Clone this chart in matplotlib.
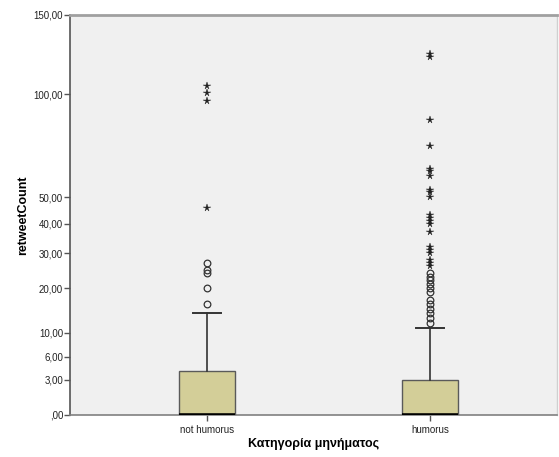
import numpy as np
import matplotlib
matplotlib.use("Agg")
import matplotlib.pyplot as plt

plt.rcParams['font.family'] = ['Liberation Sans', 'DejaVu Sans']

categories = ["not humorus", "humorus"]
q1 = [0, 0]
medians = [0, 0]
q3 = [4, 3]
whisker_hi = [14, 11]
outliers = [
    [16, 20, 24, 25, 27],
    [12, 13, 14, 15, 16, 17, 19, 20, 21, 22, 23, 24],
]
extremes = [
    [46, 96, 101, 105],
    [26, 27, 28, 30, 31, 32, 37, 40, 41, 42, 43, 50, 52, 53, 59, 61, 62, 73, 86, 122, 124],
]
y_ticks = [0, 3, 6, 10, 20, 30, 40, 50, 100, 150]


def fwd(v):
    return np.sqrt(np.maximum(np.asarray(v, dtype=float) + 1.0, 0.0))


def inv(v):
    return np.asarray(v, dtype=float) ** 2 - 1.0


def fmt(v):
    s = f"{v:.2f}".replace(".", ",")
    return ",00" if v == 0 else s


fig = plt.figure(figsize=(5.59, 4.57), dpi=100)
ax = fig.add_axes([70 / 559, 1 - 415 / 457, 487 / 559, 400 / 457])
ax.set_facecolor("#f0f0f0")
ax.set_yscale("function", functions=(fwd, inv))
ax.set_ylim(0, 150)
ax.set_xlim(-0.615, 1.57)

positions = np.arange(len(categories))
stats = []
for i in range(len(categories)):
    stats.append(dict(med=medians[i], q1=q1[i], q3=q3[i],
                      whislo=q1[i], whishi=whisker_hi[i], fliers=[]))

ax.bxp(stats, positions=positions, widths=0.25, patch_artist=True,
       showfliers=False,
       boxprops=dict(facecolor="#d3ce98", edgecolor="#5a5a5a", linewidth=1.0),
       medianprops=dict(color="black", linewidth=2.6, solid_capstyle="butt"),
       whiskerprops=dict(color="#333333", linewidth=1.2),
       capprops=dict(color="#333333", linewidth=1.4),
       capwidths=0.125, zorder=3)

for i, pos in enumerate(positions):
    ax.plot([pos] * len(outliers[i]), outliers[i], linestyle="none",
            marker="o", markersize=4.8, markerfacecolor="none",
            markeredgecolor="#333333", markeredgewidth=0.9, zorder=4)
    ax.plot([pos] * len(extremes[i]), extremes[i], linestyle="none",
            marker="*", markersize=5.5, markerfacecolor="#222222",
            markeredgecolor="#222222", markeredgewidth=0.3, zorder=4)

ax.set_yticks(y_ticks)
ax.set_yticklabels([fmt(v) for v in y_ticks])
ax.yaxis.set_minor_locator(matplotlib.ticker.NullLocator())
ax.set_xticks(positions)
ax.set_xticklabels(categories)
ax.tick_params(axis="y", direction="out", length=4, width=1, color="#555555",
               labelsize=7, pad=1, labelcolor="#222222")
ax.tick_params(axis="x", direction="out", length=4, width=1, color="#555555",
               labelsize=7, pad=3, labelcolor="#222222")

ax.spines["left"].set_color("#555555")
ax.spines["left"].set_linewidth(1.2)
ax.spines["bottom"].set_color("#808080")
ax.spines["bottom"].set_linewidth(1.2)
ax.spines["top"].set_color("#a0a0a0")
ax.spines["top"].set_linewidth(2.0)
ax.spines["right"].set_color("#d0d0d0")
ax.spines["right"].set_linewidth(1.0)

ax.set_ylabel("retweetCount", fontsize=9, fontweight="bold", labelpad=3)
ax.set_xlabel("Κατηγορία μηνήματος", fontsize=9, fontweight="bold", labelpad=2)

fig.savefig("out.png", dpi=100, facecolor="white")
